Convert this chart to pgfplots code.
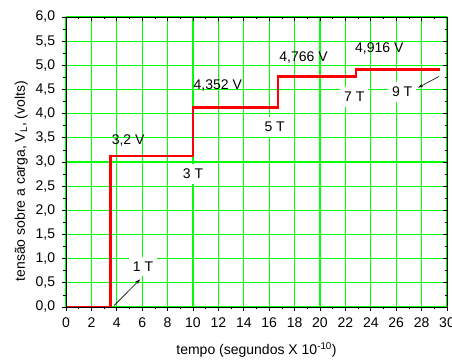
\documentclass[border=0pt]{standalone}
\usepackage{fontspec}
\setmainfont{Liberation Sans}
\usepackage{pgfplots}
\pgfplotsset{compat=1.18}
\usetikzlibrary{arrows.meta}
\definecolor{grgreen}{RGB}{0,255,0}
\begin{document}
\fontsize{14}{16}\selectfont
\begin{tikzpicture}
\begin{axis}[
  scale only axis, width=381pt, height=290pt,
  xmin=0, xmax=30, ymin=0, ymax=6,
  xtick={0,2,...,30}, ytick={0,0.5,...,6},
  minor x tick num=1, minor y tick num=1,
  xmajorgrids=true, ymajorgrids=true, xminorgrids=false, yminorgrids=false,
  major grid style={grgreen, line width=1.2pt},
  axis line style={black, line width=0.9pt},
  tick align=outside, xtick pos=left, ytick pos=left,
  major tick length=4pt, minor tick length=2.5pt,
  tick style={black, line width=0.7pt},
  /pgf/number format/assume math mode=true,
  ticklabel style={font=\fontsize{14}{16}\selectfont},
  y tick label style={/pgf/number format/.cd, fixed, fixed zerofill, precision=1, use comma, /tikz/.cd, xshift=-2pt},
  x tick label style={yshift=-2pt},
  xlabel={tempo (segundos X 10\textsuperscript{-10})},
  ylabel={tensão sobre a carga, V\textsubscript{L}, (volts)},
  label style={font=\fontsize{14}{16}\selectfont},
  xlabel style={at={([yshift=-48pt]axis description cs:0.5,0)}, anchor=base},
  ylabel style={at={([xshift=-41pt]axis description cs:0,0.434)}, anchor=base},
  clip=false,
]
\addplot[red, line width=2.6pt, line join=miter] coordinates {
 (0,0) (3.5,0) (3.5,3.12) (10,3.12) (10,4.13) (16.7,4.13) (16.7,4.77) (22.85,4.77) (22.85,4.91) (29.45,4.91)
};
\node at (axis cs:4.89,3.45) {3,2 V};
\node at (axis cs:11.95,4.59) {4,352 V};
\node at (axis cs:18.7,5.17) {4,766 V};
\node at (axis cs:24.67,5.34) {4,916 V};
\node[fill=white, inner xsep=4pt, inner ysep=5pt] at (axis cs:6.07,0.84) {1 T};
\node[fill=white, inner xsep=4pt, inner ysep=5pt] at (axis cs:10.0,2.75) {3 T};
\node[fill=white, inner xsep=4pt, inner ysep=5pt] at (axis cs:16.43,3.73) {5 T};
\node[fill=white, inner xsep=4pt, inner ysep=5pt] at (axis cs:22.7,4.35) {7 T};
\node[fill=white, inner xsep=4pt, inner ysep=5pt] at (axis cs:26.47,4.45) {9 T};
\draw[line width=0.6pt, -{Stealth[length=5pt,width=3.5pt]}] (axis cs:3.79,0.03) -- (axis cs:5.83,0.57);
\draw[line width=0.6pt, -{Stealth[length=5pt,width=3.5pt]}] (axis cs:29.38,4.77) -- (axis cs:27.73,4.54);
\end{axis}
\begin{axis}[
  scale only axis, width=381pt, height=290pt,
  xmin=0, xmax=30, ymin=0, ymax=6,
  xtick={0,2,...,30}, ytick={0,0.5,...,6},
  minor x tick num=1, minor y tick num=1,
  xmajorgrids=false, ymajorgrids=false, xminorgrids=false, yminorgrids=false,
  xtick pos=right, ytick pos=right, tick align=inside,
  xticklabels={}, yticklabels={},
  axis line style={black, line width=0.9pt},
  major tick length=4pt, minor tick length=2.5pt,
  tick style={black, line width=0.7pt},
]
\end{axis}
\pgfresetboundingbox
\path[use as bounding box] ([xshift=-66pt,yshift=-54pt]current axis.south west) rectangle ([xshift=5pt,yshift=17pt]current axis.north east);
\end{tikzpicture}
\end{document}
